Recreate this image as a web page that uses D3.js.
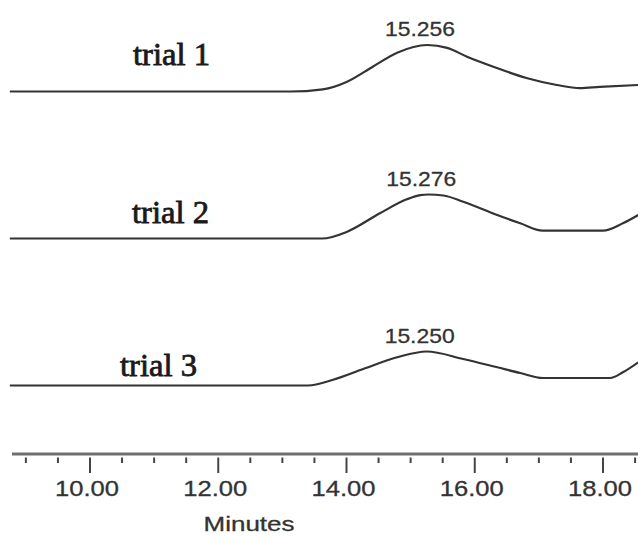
<!DOCTYPE html>
<html>
<head>
<meta charset="utf-8">
<script src="https://cdn.jsdelivr.net/npm/d3@7"></script>
<style>
  html, body { margin: 0; padding: 0; background: #fff; }
  svg { display: block; }
</style>
</head>
<body>
<svg id="chart" width="638" height="540"></svg>
<script>
// Chromatogram traces (retention time in minutes, detector response in mV above baseline)
const trials = ["trial 1", "trial 2", "trial 3"];
const peakTimes = [15.256, 15.276, 15.250];

const trial1Time = [8.75, 13.12, 13.63, 14.01, 14.41, 14.79, 15.256, 15.57, 15.88, 16.29, 16.82, 17.28, 17.64, 17.95, 18.55];
const trial1Resp = [0, 0, 2.2, 9.8, 24.8, 38.8, 46.5, 43.6, 34.8, 24.8, 13.2, 6.5, 3.4, 4.6, 6.5];

const trial2Time = [8.75, 13.62, 14.01, 14.52, 14.94, 15.15, 15.276, 15.51, 15.82, 16.35, 16.71, 17.06, 18.00, 18.31, 18.55];
const trial2Resp = [0, 0, 6.8, 25.2, 39.2, 43.4, 44, 43, 36.8, 23.5, 15.2, 7.8, 7.8, 15.2, 23.5];

const trial3Time = [8.75, 13.40, 13.79, 14.26, 14.79, 15.250, 15.82, 16.35, 16.71, 17.06, 18.11, 18.31, 18.55];
const trial3Resp = [0, 0, 5.8, 16.5, 28.2, 34, 26.5, 18.2, 12.5, 7.5, 7.5, 13.2, 23.2];

const majorTicks = [10, 12, 14, 16, 18];
const minorTicks = d3.range(9, 18.51, 0.5);
const axisTitle = "Minutes";

const times = [trial1Time, trial2Time, trial3Time];
const resps = [trial1Resp, trial2Resp, trial3Resp];

const svg = d3.select("#chart");
const W = 638, H = 540;

// Time axis scale
const x = d3.scaleLinear().domain([10, 18]).range([90, 603]);
// Baseline of each trace, stacked vertically
const lane = d3.scalePoint().domain(trials).range([91.5, 385.5]);
// Response height above the baseline
const y = d3.scaleLinear().domain([0, 50]).range([0, 50]);

svg.append("defs").append("clipPath").attr("id", "plotClip")
  .append("rect").attr("x", 0).attr("y", 0).attr("width", W).attr("height", H);

const line = d3.line().curve(d3.curveMonotoneX);

const traces = svg.append("g").attr("clip-path", "url(#plotClip)");

trials.forEach((name, i) => {
  const base = lane(name);
  const pts = times[i].map((t, k) => [x(t), base - y(resps[i][k])]);
  traces.append("path")
    .attr("d", line(pts))
    .attr("fill", "none")
    .attr("stroke", "#333")
    .attr("stroke-width", 2.2)
    .attr("stroke-linejoin", "round");

  // peak retention time label
  const pk = peakTimes[i];
  const pkIdx = times[i].indexOf(pk);
  const pkY = base - y(resps[i][pkIdx]);
  svg.append("text")
    .attr("x", x(pk) - 7)
    .attr("y", pkY - 9)
    .attr("text-anchor", "middle")
    .attr("font-family", "'Liberation Sans', Arial, sans-serif")
    .attr("font-size", 21)
    .attr("fill", "#333")
    .attr("stroke", "#333")
    .attr("stroke-width", 0.3)
    .attr("textLength", 70)
    .attr("lengthAdjust", "spacingAndGlyphs")
    .text(pk.toFixed(3));
});

// Trace names
const nameX = [133, 132, 120];
const nameOffset = [26.5, 15.5, 9.5];
trials.forEach((name, i) => {
  svg.append("text")
    .attr("x", nameX[i])
    .attr("y", lane(name) - nameOffset[i])
    .attr("font-family", "'Liberation Serif', 'Times New Roman', serif")
    .attr("font-size", 32)
    .attr("fill", "#1a1a1a")
    .attr("stroke", "#1a1a1a")
    .attr("stroke-width", 0.8)
    .attr("textLength", 77)
    .attr("lengthAdjust", "spacingAndGlyphs")
    .text(name);
});

// Time axis
const axisY = 454;
const axisG = svg.append("g");
axisG.append("line")
  .attr("x1", 12).attr("x2", W)
  .attr("y1", axisY).attr("y2", axisY)
  .attr("stroke", "#6f6f6f").attr("stroke-width", 3);

axisG.selectAll("line.minor")
  .data(minorTicks.filter(t => !majorTicks.includes(t)))
  .join("line").attr("class", "minor")
  .attr("x1", d => x(d)).attr("x2", d => x(d))
  .attr("y1", axisY + 3.5).attr("y2", axisY + 9)
  .attr("stroke", "#444").attr("stroke-width", 2);

axisG.selectAll("line.major")
  .data(majorTicks)
  .join("line").attr("class", "major")
  .attr("x1", d => x(d)).attr("x2", d => x(d))
  .attr("y1", axisY + 3.5).attr("y2", axisY + 19)
  .attr("stroke", "#444").attr("stroke-width", 2);

axisG.selectAll("text.tick")
  .data(majorTicks)
  .join("text").attr("class", "tick")
  .attr("x", d => x(d) - 3)
  .attr("y", 496)
  .attr("text-anchor", "middle")
  .attr("font-family", "'Liberation Sans', Arial, sans-serif")
  .attr("font-size", 22)
  .attr("fill", "#333")
  .attr("stroke", "#333")
  .attr("stroke-width", 0.3)
  .attr("textLength", 64)
  .attr("lengthAdjust", "spacingAndGlyphs")
  .text(d => d.toFixed(2));

svg.append("text")
  .attr("x", 249)
  .attr("y", 531)
  .attr("text-anchor", "middle")
  .attr("font-family", "'Liberation Sans', Arial, sans-serif")
  .attr("font-size", 21)
  .attr("fill", "#333")
  .attr("stroke", "#333")
  .attr("stroke-width", 0.3)
  .attr("textLength", 91)
  .attr("lengthAdjust", "spacingAndGlyphs")
  .text(axisTitle);
</script>
</body>
</html>
